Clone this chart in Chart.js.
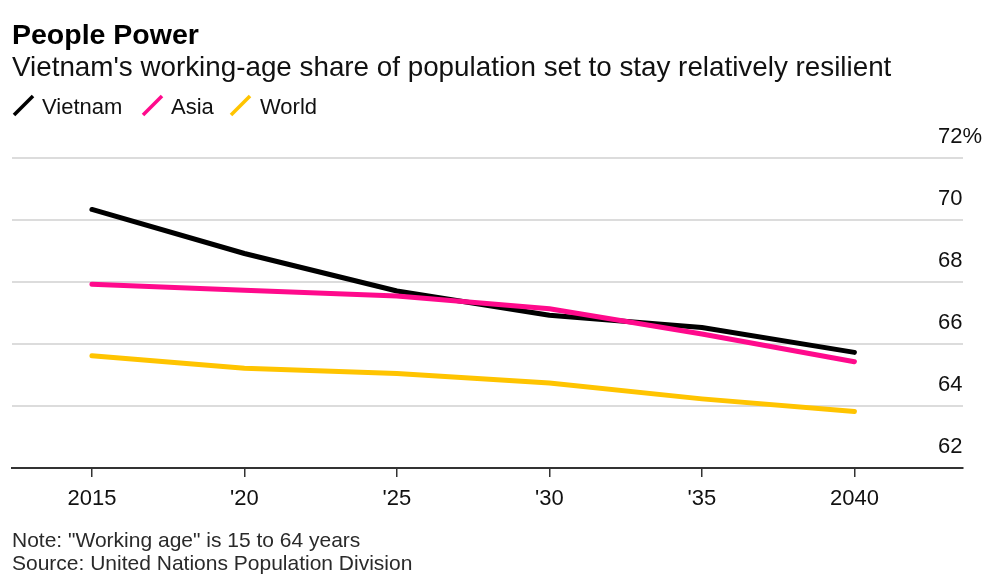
<!DOCTYPE html>
<html>
<head>
<meta charset="utf-8">
<script src="https://cdn.jsdelivr.net/npm/chart.js@4"></script>
<style>
  html, body { margin: 0; padding: 0; background: #fff; }
  body { width: 1002px; height: 587px; position: relative; overflow: hidden; font-family: "Liberation Sans", Arial, sans-serif; }
  #wrap { position: absolute; left: 0; top: 0; width: 1002px; height: 587px; }
  .t { position: absolute; left: 12px; white-space: nowrap; line-height: 1; }
  #title { top: 20px; font-size: 28.5px; font-weight: bold; color: #000; }
  #subtitle { top: 53px; font-size: 27.8px; color: #111; }
  #legend { position: absolute; top: 96px; left: 0; height: 24px; width: 600px; }
  .li { position: absolute; top: 0; font-size: 22px; line-height: 1; color: #111; }
  .lm { position: absolute; top: -2px; }
  #note { top: 529px; font-size: 21px; color: #2a2a2a; }
  #source { top: 552px; font-size: 21px; color: #2a2a2a; }
</style>
</head>
<body>
<div id="wrap"><canvas id="c" width="1002" height="587"></canvas></div>
<div class="t" id="title">People Power</div>
<div class="t" id="subtitle">Vietnam's working-age share of population set to stay relatively resilient</div>
<div id="legend"></div>
<div class="t" id="note">Note: "Working age" is 15 to 64 years</div>
<div class="t" id="source">Source: United Nations Population Division</div>
<script>
// ---- data ----
const years = [2015, 2020, 2025, 2030, 2035, 2040];
const xTickLabels = ["2015", "'20", "'25", "'30", "'35", "2040"];
const yTickValues = [62, 64, 66, 68, 70, 72];
const yTickLabels = ["62", "64", "66", "68", "70", "72%"];
const seriesNames = ["Vietnam", "Asia", "World"];
const vietnam = [70.34, 68.92, 67.71, 66.93, 66.53, 65.73];
const asia = [67.93, 67.73, 67.55, 67.14, 66.32, 65.43];
const world = [65.62, 65.22, 65.05, 64.74, 64.23, 63.82];
const seriesColors = ["#000000", "#ff0a8c", "#ffc400"];

// ---- legend (HTML) ----
const legendX = [[12, 42], [141, 171], [229, 260]];
const legend = document.getElementById('legend');
seriesNames.forEach((name, i) => {
  const m = document.createElement('div');
  m.className = 'lm';
  m.style.left = legendX[i][0] + 'px';
  m.innerHTML = '<svg width="24" height="24"><line x1="2" y1="21" x2="21" y2="2" stroke="' + seriesColors[i] + '" stroke-width="3.5" stroke-linecap="butt"/></svg>';
  legend.appendChild(m);
  const t = document.createElement('div');
  t.className = 'li';
  t.style.left = legendX[i][1] + 'px';
  t.textContent = name;
  legend.appendChild(t);
});

const toPts = arr => arr.map((v, i) => ({x: years[i], y: v}));
const values = [vietnam, asia, world];
const drawOrder = [1, 0, 2];
const fontFam = '"Liberation Sans", Arial, sans-serif';

new Chart(document.getElementById('c'), {
  type: 'line',
  data: {
    datasets: seriesNames.map((name, i) => ({
      label: name,
      data: toPts(values[i]),
      borderColor: seriesColors[i],
      backgroundColor: seriesColors[i],
      borderWidth: 5,
      pointRadius: 0,
      tension: 0,
      borderCapStyle: 'round',
      borderJoinStyle: 'round',
      order: drawOrder[i]
    }))
  },
  options: {
    responsive: false,
    animation: false,
    devicePixelRatio: 1,
    layout: { padding: { left: 12, top: 158, right: 0, bottom: 0 } },
    plugins: { legend: { display: false }, tooltip: { enabled: false }, title: { display: false } },
    scales: {
      x: {
        type: 'linear',
        position: 'bottom',
        min: 2012.38,
        max: 2043.56,
        afterBuildTicks: s => { s.ticks = years.map(v => ({value: v})); },
        afterFit: s => { s.height = 587 - 468; },
        grid: { drawOnChartArea: false, drawTicks: true, tickLength: 9, color: '#333', lineWidth: 1.5 },
        border: { display: true, color: '#333', width: 2 },
        ticks: {
          padding: 9,
          maxRotation: 0,
          autoSkip: false,
          color: '#111',
          font: { family: fontFam, size: 22 },
          callback: (v) => xTickLabels[years.indexOf(v)]
        }
      },
      y: {
        type: 'linear',
        position: 'right',
        min: 62,
        max: 72,
        afterBuildTicks: s => { s.ticks = yTickValues.map(v => ({value: v})); },
        afterFit: s => { s.width = 1002 - 963; },
        grid: {
          drawTicks: false,
          lineWidth: 2,
          color: ctx => (ctx.tick && ctx.tick.value === 62) ? 'rgba(0,0,0,0)' : '#dcdcdc'
        },
        border: { display: false },
        ticks: {
          mirror: true,
          crossAlign: 'far',
          padding: 19,
          labelOffset: -21,
          color: '#111',
          font: { family: fontFam, size: 22 },
          callback: (v) => yTickLabels[yTickValues.indexOf(v)]
        }
      }
    }
  }
});
</script>
</body>
</html>
